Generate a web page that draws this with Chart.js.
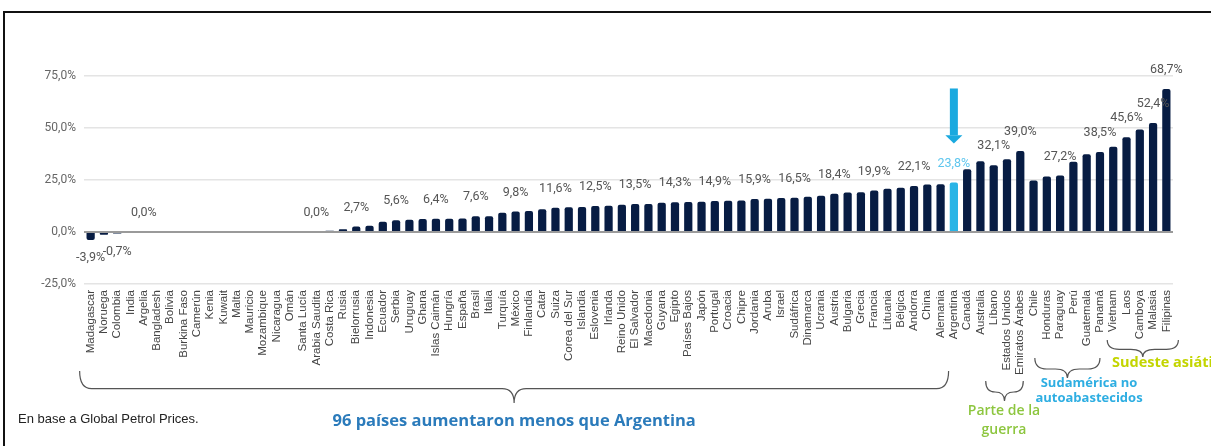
<!DOCTYPE html>
<html>
<head>
<meta charset="utf-8">
<script src="https://cdn.jsdelivr.net/npm/chart.js@4"></script>
<style>
  html, body { margin: 0; padding: 0; background: #fff; }
  #wrap { position: relative; width: 1211px; height: 446px; }
</style>
</head>
<body>
<div id="wrap"><canvas id="chart"></canvas></div>
<script>
// countries, left to right
const categories = ['Madagascar','Noruega','Colombia','India','Argelia','Bangladesh','Bolivia','Burkina Faso','Camerún','Kenia',
  'Kuwait','Malta','Mauricio','Mozambique','Nicaragua','Omán','Santa Lucía','Arabia Saudita','Costa Rica','Rusia',
  'Bielorrusia','Indonesia','Ecuador','Serbia','Uruguay','Ghana','Islas Caimán','Hungría','España','Brasil',
  'Italia','Turquía','México','Finlandia','Catar','Suiza','Corea del Sur','Islandia','Eslovenia','Irlanda',
  'Reino Unido','El Salvador','Macedonia','Guyana','Egipto','Países Bajos','Japón','Portugal','Croacia','Chipre',
  'Jordania','Aruba','Israel','Sudáfrica','Dinamarca','Ucrania','Austria','Bulgaria','Grecia','Francia',
  'Lituania','Bélgica','Andorra','China','Alemania','Argentina','Canadá','Australia','Líbano','Estados Unidos',
  'Emiratos Árabes','Chile','Honduras','Paraguay','Perú','Guatemala','Panamá','Vietnam','Laos','Camboya',
  'Malasia','Filipinas'];

// % increase
const values = [-3.9,-1.3,-0.7,0,0,0,0,0,0,0,
  0,0,0,0,0,0,0,0,0.6,1.3,
  2.7,3.0,4.9,5.6,5.9,6.2,6.4,6.4,6.5,7.6,
  7.6,9.3,9.8,10.1,10.9,11.6,11.9,12.0,12.5,12.6,
  13.1,13.5,13.5,14.1,14.3,14.4,14.5,14.9,15.0,15.1,
  15.9,16.0,16.4,16.5,17.0,17.4,18.4,19.0,19.1,19.9,
  20.8,21.3,22.1,22.8,22.9,23.8,30.2,34.0,32.1,35.0,
  39.0,24.8,26.7,27.2,33.8,37.4,38.5,41.0,45.6,49.3,
  52.4,68.7];

// bars that carry a value label
const labelIdx = [0,2,4,17,20,23,26,29,32,35,38,41,44,47,50,53,56,59,62,65,68,70,73,76,78,80,81];
const yTicks = [-25, 0, 25, 50, 75];
const highlight = 'Argentina';

const NAVY = '#071c43';
const SKY = '#29b4e6';

function fmt(v) { return v.toFixed(1).replace('.', ',') + '%'; }

function brace(ctx, x1, x2, yTop, yTip) {
  const yMid = yTop + (yTip - yTop) * 0.55;
  const xm = (x1 + x2) / 2;
  const r = Math.min(12, (x2 - x1) / 4);
  ctx.beginPath();
  ctx.moveTo(x1, yTop);
  ctx.quadraticCurveTo(x1, yMid, x1 + r, yMid);
  ctx.lineTo(xm - r, yMid);
  ctx.quadraticCurveTo(xm, yMid, xm, yTip);
  ctx.quadraticCurveTo(xm, yMid, xm + r, yMid);
  ctx.lineTo(x2 - r, yMid);
  ctx.quadraticCurveTo(x2, yMid, x2, yTop);
  ctx.stroke();
}

const decorations = {
  id: 'decorations',
  beforeDraw(chart) {
    const ctx = chart.ctx;
    ctx.save();
    ctx.fillStyle = '#fff';
    ctx.fillRect(0, 0, chart.width, chart.height);
    ctx.restore();
  },
  afterDatasetsDraw(chart) {
    const ctx = chart.ctx;
    const meta = chart.getDatasetMeta(0);
    const xs = chart.scales.x, ys = chart.scales.y;
    ctx.save();
    // value labels
    ctx.font = '12.5px Roboto';
    ctx.textAlign = 'center';
    ctx.textBaseline = 'middle';
    labelIdx.forEach(i => {
      const bar = meta.data[i];
      const v = values[i];
      ctx.fillStyle = categories[i] === highlight ? '#5ec6ee' : '#555';
      if (v < 0) ctx.fillText(fmt(v), bar.x, bar.y + 18);
      else ctx.fillText(fmt(v), bar.x, bar.y - 19);
    });
    // arrow over Argentina
    const ai = categories.indexOf(highlight);
    const ax = xs.getPixelForValue(ai);
    const yA = ys.getPixelForValue(69), yB = ys.getPixelForValue(46.5), yC = ys.getPixelForValue(42.6);
    ctx.fillStyle = '#1aa9df';
    ctx.fillRect(ax - 4, yA, 8, yB - yA);
    ctx.beginPath();
    ctx.moveTo(ax - 8.5, yB);
    ctx.lineTo(ax + 8.5, yB);
    ctx.lineTo(ax, yC);
    ctx.closePath();
    ctx.fill();
    ctx.restore();
  },
  afterDraw(chart) {
    const ctx = chart.ctx;
    const xs = chart.scales.x;
    const px = i => xs.getPixelForValue(i);
    ctx.save();
    // frame
    ctx.fillStyle = '#111';
    ctx.fillRect(3, 11, chart.width - 3, 2);
    ctx.fillRect(3, 11, 2, chart.height - 11);

    // braces
    ctx.strokeStyle = '#555';
    ctx.lineWidth = 1.2;
    const b1 = px(0) - 11, b2 = px(64) + 8;
    brace(ctx, b1, b2, 371, 403);
    brace(ctx, px(68) - 8, px(70) + 3, 381, 401);
    brace(ctx, px(72) - 12, px(76), 358, 378);
    brace(ctx, px(77) - 6, px(81) + 12, 340, 357);

    ctx.textBaseline = 'middle';
    ctx.textAlign = 'center';
    ctx.font = 'bold 16.5px "Open Sans"';
    ctx.fillStyle = '#2b7bbb';
    ctx.fillText('96 países aumentaron menos que Argentina', (b1 + b2) / 2, 421);

    ctx.textAlign = 'left';
    ctx.font = '13px "Liberation Sans"';
    ctx.fillStyle = '#222';
    ctx.fillText('En base a Global Petrol Prices.', 18, 419);

    ctx.textAlign = 'center';
    ctx.font = '600 14px "Open Sans"';
    ctx.fillStyle = '#8dc63f';
    ctx.fillText('Parte de la', 1004, 411);
    ctx.fillText('guerra', 1004, 430);

    ctx.font = 'bold 13px "Open Sans"';
    ctx.fillStyle = '#2eaee2';
    ctx.fillText('Sudamérica no', 1089, 383);
    ctx.fillText('autoabastecidos', 1089, 398);

    ctx.textAlign = 'left';
    ctx.font = 'bold 14.5px "Open Sans"';
    ctx.fillStyle = '#c3d500';
    ctx.fillText('Sudeste asiático', 1112, 363);
    ctx.restore();
  }
};

new Chart(document.getElementById('chart'), {
  type: 'bar',
  data: {
    labels: categories,
    datasets: [{
      data: values,
      backgroundColor: categories.map(c => c === highlight ? SKY : NAVY),
      barPercentage: 0.62,
      categoryPercentage: 1,
      borderRadius: 2,
      borderSkipped: 'start'
    }]
  },
  options: {
    responsive: true,
    maintainAspectRatio: false,
    animation: false,
    layout: { padding: { top: 76, right: 38, bottom: 0, left: 0 } },
    plugins: { legend: { display: false }, tooltip: { enabled: false } },
    scales: {
      x: {
        grid: { display: false, drawTicks: false },
        border: { display: false },
        ticks: {
          autoSkip: false, maxRotation: 90, minRotation: 90, padding: 6,
          color: '#444', font: { family: '"Liberation Sans", Arial', size: 11.5 }
        },
        afterFit(scale) { scale.height = 162; }
      },
      y: {
        min: -25, max: 75,
        afterBuildTicks(scale) { scale.ticks = yTicks.map(v => ({ value: v })); },
        border: { display: false },
        grid: {
          drawTicks: false,
          color: c => c.tick && c.tick.value === 0 ? '#9a9a9a' : '#e4e4e4',
          lineWidth: c => c.tick && c.tick.value === 0 ? 2 : 1.5
        },
        ticks: {
          padding: 8, color: '#666',
          font: { family: 'Roboto', size: 12 },
          callback: v => fmt(v)
        },
        afterFit(scale) { scale.width = 84; }
      }
    }
  },
  plugins: [decorations]
});
</script>
</body>
</html>
